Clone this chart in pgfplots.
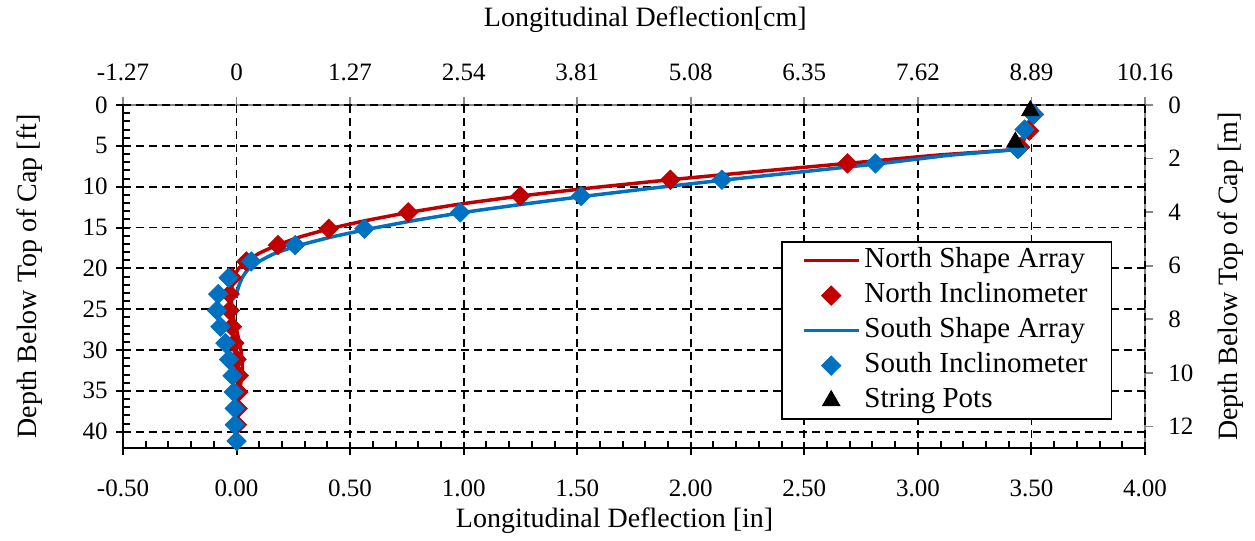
\documentclass[border=0pt]{standalone}
\usepackage{pgfplots}
\pgfplotsset{compat=1.18}
\usepackage{fontspec}
\setmainfont{Liberation Serif}
\definecolor{nred}{HTML}{C00000}
\definecolor{sblue}{HTML}{0070C0}
\definecolor{spinegray}{RGB}{134,134,134}
\begin{document}
\begin{tikzpicture}
% secondary axis: top (cm) and right (m)
\begin{axis}[
  scale only axis, width=511pt, height=171.5pt,
  xmin=-0.5, xmax=4, ymin=0, ymax=12.8016, y dir=reverse,
  axis x line*=top, axis y line*=right,
  axis line style={spinegray, line width=0.9pt, -},
  tick style={spinegray, line width=0.9pt},
  tick align=outside, major tick length=4pt,
  xtick={-0.5,0,0.5,1,1.5,2,2.5,3,3.5,4},
  xticklabels={-1.27,0,1.27,2.54,3.81,5.08,6.35,7.62,8.89,10.16},
  ytick={0,2,4,6,8,10,12},
  yticklabels={0,2,4,6,8,10,12},
  minor tick num=0,
  /pgf/number format/assume math mode=true,
  xticklabel style={font=\fontsize{12.5}{14}\selectfont, anchor=center, yshift=12.5pt},
  yticklabel style={font=\fontsize{12.5}{14}\selectfont, anchor=west, inner sep=0pt, xshift=7.5pt},
  xlabel={Longitudinal Deflection[cm]},
  xlabel style={font=\fontsize{14}{16}\selectfont, at={(axis description cs:0.511,1.2478)}, anchor=center},
  ylabel={Depth Below Top of Cap [m]},
  ylabel style={font=\fontsize{14}{16}\selectfont, at={(axis description cs:1.0842,0.5)}, anchor=center, rotate=0},
]
\addplot[draw=none] coordinates {(0,0)};
\end{axis}
% main axis: bottom (in) and left (ft)
\begin{axis}[
  scale only axis, width=511pt, height=171.5pt,
  xmin=-0.5, xmax=4, ymin=0, ymax=42, y dir=reverse,
  axis x line*=bottom, axis y line*=left,
  axis line style={black, line width=1.25pt, -},
  xtick={-0.5,0,0.5,1,1.5,2,2.5,3,3.5,4},
  xticklabels={-0.50,0.00,0.50,1.00,1.50,2.00,2.50,3.00,3.50,4.00},
  ytick={0,5,10,15,20,25,30,35,40},
  yticklabels={0,5,10,15,20,25,30,35,40},
  minor x tick num=4, minor y tick num=4,
  tick align=inside,
  major tick length=6.5pt, minor tick length=3.5pt,
  tick style={black, line width=1pt},
  major x tick style={yshift=-3.25pt},
  major y tick style={xshift=-3.25pt},
  grid=major,
  major grid style={black, line width=0.9pt, dash pattern=on 4pt off 2.5pt},
  clip=false,
  /pgf/number format/assume math mode=true,
  xticklabel style={font=\fontsize{12.5}{14}\selectfont, anchor=center, yshift=-20pt},
  yticklabel style={font=\fontsize{12.5}{14}\selectfont, anchor=east, inner sep=0pt, xshift=-7.5pt},
  xlabel={Longitudinal Deflection [in]},
  xlabel style={font=\fontsize{14}{16}\selectfont, at={(axis description cs:0.481,-0.2128)}, anchor=center},
  ylabel={Depth Below Top of Cap [ft]},
  ylabel style={font=\fontsize{14}{16}\selectfont, at={(axis description cs:-0.091,0.5)}, anchor=center},
  legend style={at={(axis description cs:0.968,0.082)}, anchor=south east,
    draw=black, line width=0.75pt, fill=white,
    font=\fontsize{14.5}{16}\selectfont,
    inner xsep=10pt, inner ysep=0.5pt,
    nodes={text height=10pt, text depth=3.5pt, inner ysep=2pt, inner xsep=2pt}},
  legend cell align=left,
  legend image code/.code={\draw[mark repeat=2,mark phase=2,#1] plot coordinates {(0pt,0pt) (13.75pt,0pt) (27.5pt,0pt)};},
]
% North Shape Array
\addplot[nred, line width=1.75pt, smooth, tension=0.3] table {
x y
3.50 0
3.53 1
3.49 2
3.51 3
3.47 4
3.46 5
3.43 5.45
3.08 6.15
2.69 7.15
2.29 8.15
1.91 9.15
1.56 10.15
1.25 11.15
0.98 12.15
0.76 13.15
0.57 14.15
0.41 15.15
0.28 16.15
0.18 17.15
0.10 18.15
0.045 19.15
0.01 20
-0.012 21
-0.02 22
-0.022 23
-0.022 24
-0.02 25
-0.014 26
-0.006 27
0.004 28
0.012 29
0.019 30
0.024 31
0.026 32
0.024 33
0.019 34
0.013 35
0.007 36
0.003 37
0.0 38
};
\addlegendentry{North Shape Array}
% North Inclinometer
\addplot[only marks, mark=square*, mark size=3.4pt, mark options={rotate=45, fill=nred, draw=nred, line width=0.4pt}] table {
x y
3.51 1.15
3.49 3.15
3.45 5.15
2.69 7.15
1.91 9.15
1.25 11.15
0.756 13.15
0.406 15.15
0.182 17.15
0.043 19.15
-0.02 21.15
-0.03 23.15
-0.03 25.15
-0.02 27.15
-0.01 29.15
0.0 31.15
0.01 33.15
0.008 35.15
0.005 37.15
0.002 39.15
};
\addlegendentry{North Inclinometer}
% South Shape Array
\addplot[sblue, line width=1.75pt, smooth, tension=0.3] table {
x y
3.51 0
3.53 1
3.49 2
3.49 3
3.46 4
3.45 5
3.43 5.45
3.14 6.15
2.84 7.15
2.50 8.15
2.16 9.15
1.84 10.15
1.54 11.15
1.26 12.15
1.00 13.15
0.78 14.15
0.59 15.15
0.42 16.15
0.28 17.15
0.17 18.15
0.10 19.15
0.05 20.15
0.025 21.15
0.01 22.15
0.0 23.15
-0.002 23.6
};
\addlegendentry{South Shape Array}
% South Inclinometer
\addplot[only marks, mark=square*, mark size=3.4pt, mark options={rotate=45, fill=sblue, draw=sblue, line width=0.4pt}] table {
x y
3.51 1.15
3.47 3.0
3.44 5.4
2.813 7.15
2.137 9.15
1.517 11.15
0.985 13.15
0.563 15.15
0.258 17.15
0.065 19.15
-0.035 21.15
-0.081 23.15
-0.086 25.15
-0.071 27.15
-0.049 29.15
-0.033 31.15
-0.018 33.15
-0.012 35.15
-0.008 37.15
-0.008 39.15
0.0 41.15
};
\addlegendentry{South Inclinometer}
% String Pots
\addplot[only marks, mark=triangle*, mark size=5pt, mark options={fill=black, draw=black, line width=0.4pt}] table {
x y
3.495 0.7
3.429 4.55
};
\addlegendentry{String Pots}
\end{axis}
\pgfresetboundingbox
\path[use as bounding box] ([xshift=-61.5pt,yshift=-46pt]current axis.south west) rectangle ([xshift=55pt,yshift=52.5pt]current axis.north east);
\end{tikzpicture}
\end{document}
